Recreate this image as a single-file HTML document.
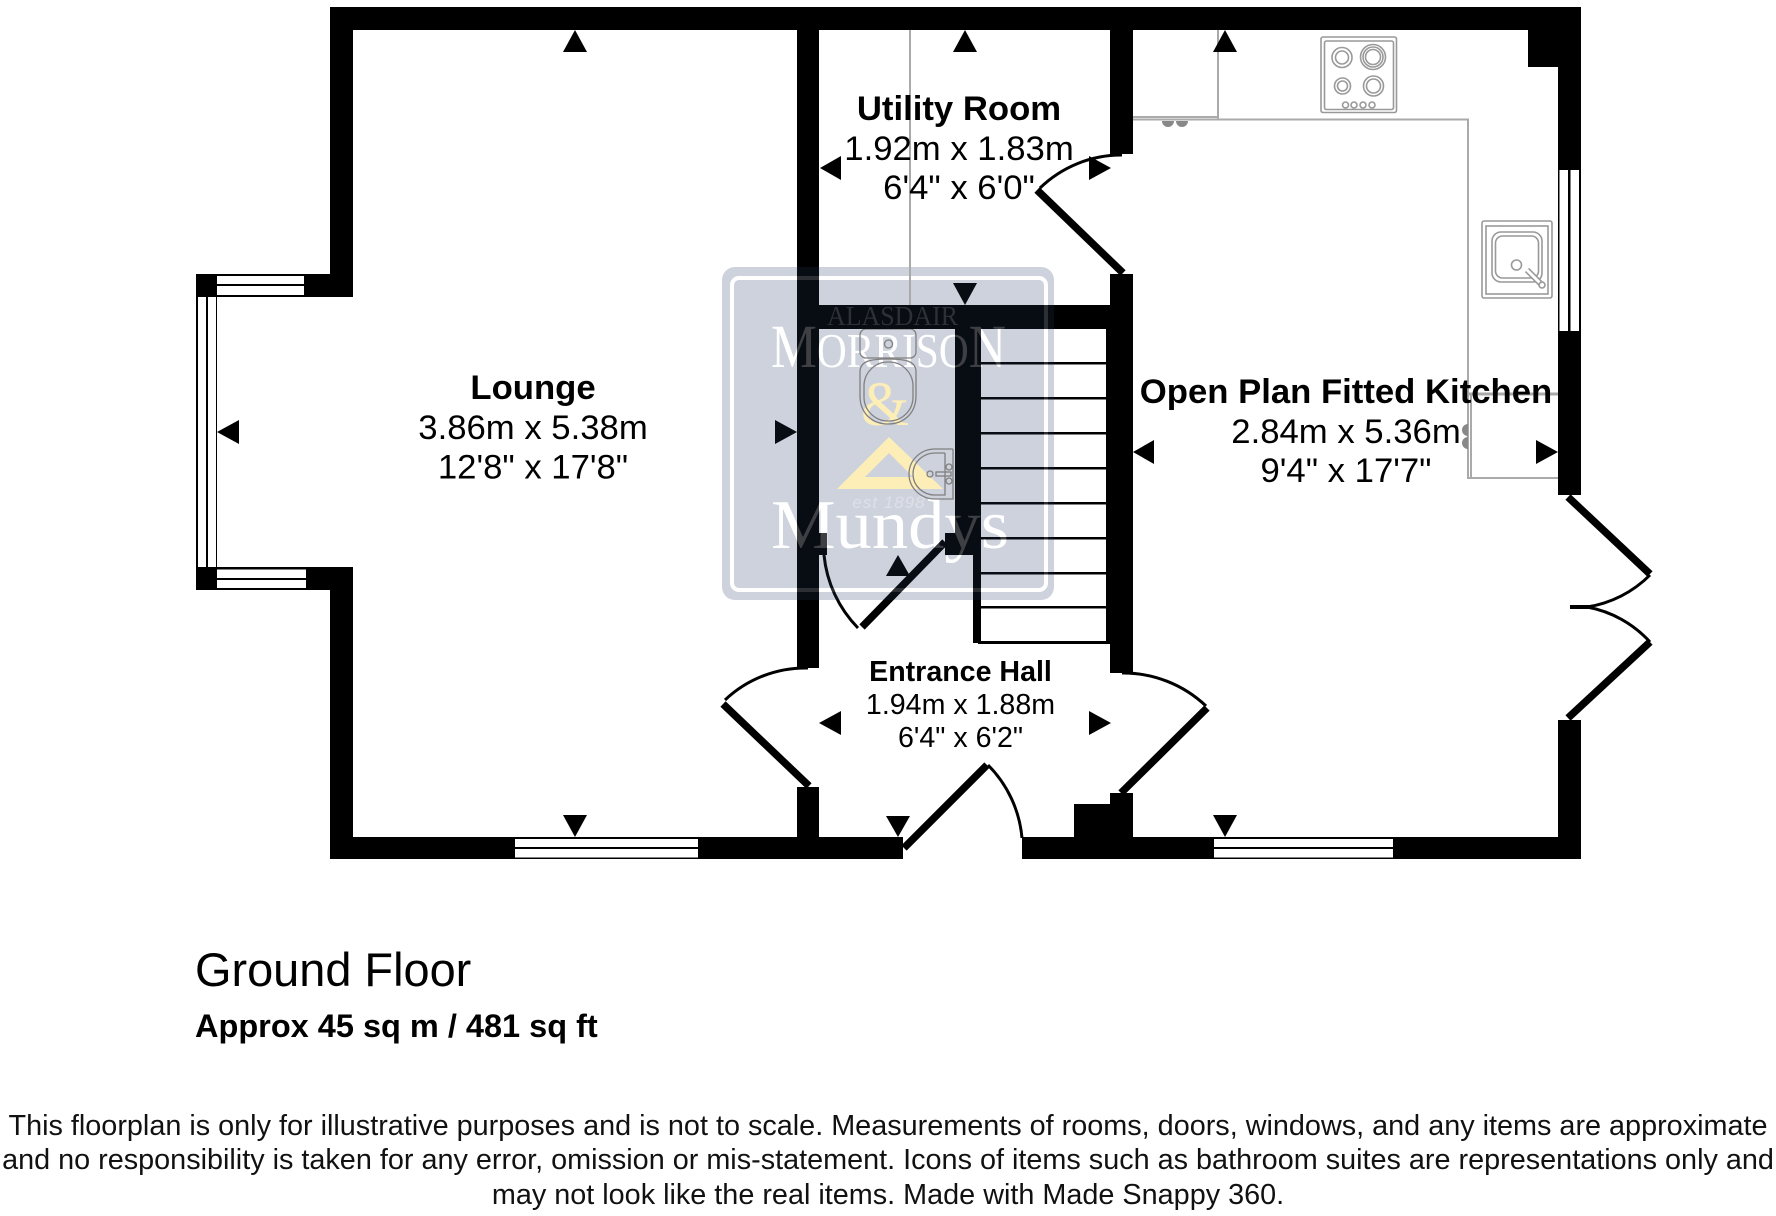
<!DOCTYPE html>
<html><head><meta charset="utf-8"><style>
html,body{margin:0;padding:0;background:#fff}
svg{display:block}
text{font-family:"Liberation Sans",sans-serif;fill:#000}
.b{font-weight:bold;font-size:34.7px;text-anchor:middle}
.r{font-size:34.7px;text-anchor:middle}
.bs{font-weight:bold;font-size:28.6px;text-anchor:middle}
.rs{font-size:28.6px;text-anchor:middle}
.f{font-size:28.8px;text-anchor:middle;fill:#111}
</style></head><body>
<svg width="1776" height="1216" viewBox="0 0 1776 1216" xmlns="http://www.w3.org/2000/svg">
<rect width="1776" height="1216" fill="#fff"/>
<!-- watermark base -->
<rect x="722" y="267" width="332" height="333" rx="13" fill="#cdd2dc"/>
<rect x="732" y="278" width="314" height="312" rx="7" fill="none" stroke="#fff" stroke-width="4"/>
<polygon fill-rule="evenodd" fill="#fdeeb8" points="889,437 837,489 943,489 889,437 889,453 913,477 865,477 889,453"/>
<text x="885" y="425" font-size="62" text-anchor="middle" style="font-family:'Liberation Serif',serif;fill:#fdeeb8">&amp;</text>
<text x="889" y="508" font-size="17" font-style="italic" text-anchor="middle" style="fill:#dde0e7" letter-spacing="1">est 1898</text>
<text x="771" y="367" font-size="61" textLength="235" lengthAdjust="spacingAndGlyphs" style="font-family:'Liberation Serif',serif;fill:#fff">M<tspan font-size="49">ORRISO</tspan>N</text>
<text x="771" y="548" font-size="70" textLength="238" lengthAdjust="spacingAndGlyphs" style="font-family:'Liberation Serif',serif;fill:#fff">Mundys</text>

<!-- grey fittings -->
<g fill="none" stroke="#aaa" stroke-width="2">
<path d="M910 30V305"/>
<path d="M1218 30V119M1133 117H1218M1133 119.5H1468V478H1558M1471 394V478"/>
<path d="M1468 394H1558" stroke-width="3"/>
<g stroke="#999" stroke-width="1.6">
<rect x="1321" y="37" width="75.500" height="75.500" rx="2"/>
<rect x="1324.500" y="41" width="69" height="68.500" rx="2"/>
<circle cx="1342" cy="57.500" r="10"/><circle cx="1342" cy="57.500" r="6.500"/>
<circle cx="1373" cy="57" r="12.500"/><circle cx="1373" cy="57" r="10"/><circle cx="1373" cy="57" r="7.500"/>
<circle cx="1342.500" cy="86" r="8"/><circle cx="1342.500" cy="86" r="5"/>
<circle cx="1373.500" cy="86" r="10"/><circle cx="1373.500" cy="86" r="7"/>
<circle cx="1345.500" cy="105" r="3"/><circle cx="1354" cy="105" r="3"/><circle cx="1363" cy="105" r="3"/><circle cx="1372" cy="105" r="3"/>
<rect x="1482" y="221" width="70" height="77" rx="2"/>
<rect x="1486" y="226" width="62" height="68"/>
<rect x="1492" y="232" width="50" height="50" rx="9"/>
<rect x="1495.500" y="236" width="43" height="42" rx="7"/>
<circle cx="1516.500" cy="265" r="5"/>
<path d="M1527 270L1541 284" stroke-width="6" stroke="#999"/><path d="M1527 270L1541 284" stroke-width="3" stroke="#fff"/>
<circle cx="1542" cy="285" r="3"/>
</g>
<g stroke="#808080" stroke-width="1.300">
<rect x="860" y="329" width="56" height="29" rx="6"/>
<circle cx="888.500" cy="344" r="4"/>
<path d="M860 372C860 362 868 359 888 359C908 359 916 362 916 372V396C916 413 904 424 888 424C872 424 860 413 860 396Z"/>
<rect x="864" y="362" width="49" height="59" rx="24"/>
<path d="M953 449H935A26 25 0 0 0 935 499H953V449"/>
<path d="M945 453H935A22 21 0 0 0 935 495H945V453"/>
<rect x="936" y="472" width="15" height="4"/>
<circle cx="930" cy="474" r="3"/><circle cx="949" cy="467" r="3"/><circle cx="949" cy="481" r="3"/>
</g>
</g>
<g fill="#888"><path d="M1162 121A6 6 0 0 0 1174 121ZM1176 121A6 6 0 0 0 1188 121Z"/><path d="M1468 424A6 6 0 0 0 1468 436ZM1468 437A6 6 0 0 0 1468 449Z"/></g>

<!-- walls -->
<g fill="#000">
<rect x="330" y="7" width="1251" height="23"/>
<rect x="330" y="7" width="23" height="290"/>
<rect x="330" y="567" width="23" height="292"/>
<rect x="196" y="274" width="157" height="23"/>
<rect x="196" y="567" width="157" height="23"/>
<rect x="196" y="297" width="21" height="270"/>
<rect x="330" y="837" width="573" height="22"/>
<rect x="1022" y="837" width="559" height="22"/>
<rect x="797" y="7" width="22" height="661"/>
<rect x="797" y="787" width="22" height="50"/>
<rect x="1110" y="7" width="23" height="147"/>
<rect x="1110" y="274" width="23" height="399"/>
<rect x="1106" y="305" width="4" height="338"/>
<rect x="1110" y="793" width="23" height="44"/>
<rect x="1074" y="804" width="36" height="33"/>
<rect x="819" y="305" width="291" height="24"/>
<rect x="955" y="329" width="26" height="226"/>
<rect x="973" y="555" width="8" height="88"/>
<rect x="945" y="533" width="36" height="22"/>
<rect x="819" y="533" width="8" height="22"/>
<rect x="1558" y="7" width="23" height="488"/>
<rect x="1558" y="720" width="23" height="139"/>
<rect x="1528" y="30" width="30" height="37"/>
<!-- stairs -->
<rect x="981" y="362" width="125" height="2.500"/><rect x="981" y="397" width="125" height="2.500"/><rect x="981" y="432" width="125" height="2.500"/><rect x="981" y="467" width="125" height="2.500"/><rect x="981" y="502" width="125" height="2.500"/><rect x="981" y="537" width="125" height="2.500"/><rect x="981" y="572" width="125" height="2.500"/><rect x="981" y="606" width="125" height="2.500"/>
<rect x="978" y="641" width="132" height="3"/>
</g>

<!-- windows -->
<g fill="#fff">
<rect x="217" y="276" width="87" height="8"/><rect x="217" y="286" width="87" height="9"/>
<rect x="217" y="569.500" width="89" height="8.500"/><rect x="217" y="580" width="89" height="8"/>
<rect x="198" y="297" width="8" height="270"/><rect x="208" y="297" width="8" height="270"/>
<rect x="1559.500" y="170" width="8.500" height="161"/><rect x="1570.500" y="170" width="8.500" height="161"/>
<rect x="515" y="839" width="183" height="8"/><rect x="515" y="849" width="183" height="8.500"/>
<rect x="1214" y="839" width="179" height="8"/><rect x="1214" y="849" width="179" height="8.500"/>
</g>

<!-- doors -->
<g fill="none" stroke="#000">
<g stroke-width="7.500">
<path d="M904 848L987 765"/><path d="M809 786L723 704"/><path d="M1121 793L1207 708"/>
<path d="M1123 273L1037 190"/><path d="M945 542L862 627"/>
<path d="M1568 497L1650 574"/><path d="M1650 642L1568 718"/>
</g>
<g stroke-width="3">
<path d="M988 765A118 118 0 0 1 1022 838"/>
<path d="M725 700A117 117 0 0 1 808 668"/>
<path d="M1122 673A120 120 0 0 1 1206 706"/>
<path d="M1040 188A117 117 0 0 1 1122 155"/>
<path d="M824 555A121 121 0 0 0 858 628"/>
<path d="M1650 575A113 113 0 0 1 1587 607"/>
<path d="M1587 607A112 112 0 0 1 1650 642"/>
</g>
<path d="M1570 607H1590" stroke-width="4"/>
</g>

<!-- arrows -->
<g fill="#000">
<polygon points="575,30 563,52 587,52"/>
<polygon points="965,30 953,52 977,52"/>
<polygon points="1225,30 1213,52 1237,52"/>
<polygon points="820,168 841,156 841,180"/>
<polygon points="1111,168 1089,156 1089,180"/>
<polygon points="965,305 953,283 977,283"/>
<polygon points="217,432 239,420 239,444"/>
<polygon points="797,432 775,420 775,444"/>
<polygon points="575,837 563,815 587,815"/>
<polygon points="1133,452 1154,440 1154,464"/>
<polygon points="1558,452 1536,440 1536,464"/>
<polygon points="1225,837 1213,815 1237,815"/>
<polygon points="898,555 886,576 910,576"/>
<polygon points="819,723 841,711 841,735"/>
<polygon points="1111,723 1089,711 1089,735"/>
<polygon points="898,837 886,816 910,816"/>
</g>

<!-- watermark overlays on dark -->
<rect x="722" y="267" width="332" height="333" rx="13" fill="#080c13" style="mix-blend-mode:lighten"/>
<rect x="732" y="278" width="314" height="312" rx="7" fill="none" stroke="#2c2f34" stroke-width="4" style="mix-blend-mode:lighten"/>
<text x="771" y="367" font-size="61" textLength="235" lengthAdjust="spacingAndGlyphs" style="font-family:'Liberation Serif',serif;fill:#3d3f43;mix-blend-mode:lighten">M<tspan font-size="49">ORRISO</tspan>N</text>
<text x="771" y="548" font-size="70" textLength="238" lengthAdjust="spacingAndGlyphs" style="font-family:'Liberation Serif',serif;fill:#3d3f43;mix-blend-mode:lighten">Mundys</text>
<text x="827" y="325" font-size="27" textLength="131" lengthAdjust="spacingAndGlyphs" style="font-family:'Liberation Serif',serif;fill:#2d3035">ALASDAIR</text>

<!-- labels -->
<text class="b" x="533" y="399">Lounge</text>
<text class="r" x="533" y="439">3.86m x 5.38m</text>
<text class="r" x="533" y="478.500">12'8" x 17'8"</text>
<text class="b" x="959" y="120">Utility Room</text>
<text class="r" x="959" y="160">1.92m x 1.83m</text>
<text class="r" x="959" y="199">6'4" x 6'0"</text>
<text class="b" x="1346" y="403">Open Plan Fitted Kitchen</text>
<text class="r" x="1346" y="443">2.84m x 5.36m</text>
<text class="r" x="1346" y="482">9'4" x 17'7"</text>
<text class="bs" x="960.500" y="681">Entrance Hall</text>
<text class="rs" x="960.500" y="714">1.94m x 1.88m</text>
<text class="rs" x="960.500" y="747">6'4" x 6'2"</text>
<text x="195" y="986" font-size="46.900">Ground Floor</text>
<text x="195" y="1037" font-size="32.500" font-weight="bold">Approx 45 sq m / 481 sq ft</text>
<text class="f" x="888" y="1135">This floorplan is only for illustrative purposes and is not to scale. Measurements of rooms, doors, windows, and any items are approximate</text>
<text class="f" x="888" y="1169">and no responsibility is taken for any error, omission or mis-statement. Icons of items such as bathroom suites are representations only and</text>
<text class="f" x="888" y="1204">may not look like the real items. Made with Made Snappy 360.</text>
</svg>
</body></html>
